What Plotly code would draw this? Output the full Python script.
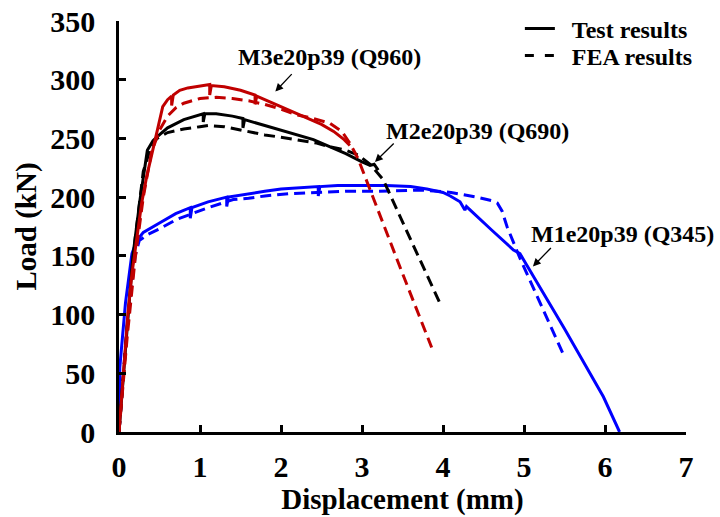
import plotly.graph_objects as go

# ---- data ----
m3_test_x = [0, 0.05, 0.11, 0.16, 0.22, 0.28, 0.34, 0.39, 0.44, 0.49, 0.54, 0.6, 0.65, 0.65, 0.67, 0.75, 0.85, 1.0, 1.12, 1.12, 1.14, 1.3, 1.5, 1.68, 1.68, 1.7, 1.9, 2.1, 2.3, 2.5, 2.65, 2.78, 2.85]
m3_test_y = [0, 48, 101, 135, 163, 195, 217, 233, 246, 262, 277, 283, 286, 278, 287, 291, 293, 295, 296, 287, 295, 294, 291, 287, 279, 286, 280, 274, 268, 262, 256, 249, 244]

m3_fea_x = [0, 0.1, 0.2, 0.3, 0.4, 0.5, 0.6, 0.7, 0.8, 1.0, 1.2, 1.4, 1.6, 1.8, 2.0, 2.2, 2.4, 2.6, 2.75, 2.85, 2.95, 3.1, 3.3, 3.5, 3.7, 3.86]
m3_fea_y = [0, 80, 148, 200, 238, 257, 269, 276, 280, 284, 285, 284, 282, 279, 275, 270, 267, 263, 256, 246, 233, 206, 171, 135, 100, 72]

m2_test_x = [0, 0.05, 0.1, 0.17, 0.26, 0.35, 0.42, 0.48, 0.6, 0.8, 1.04, 1.04, 1.06, 1.2, 1.4, 1.53, 1.53, 1.55, 1.8, 2.0, 2.2, 2.4, 2.6, 2.8, 3.0, 3.1, 3.15, 3.2]
m2_test_y = [0, 45, 92, 149, 198, 240, 248, 252, 259, 266, 271, 264, 271, 271, 269, 267, 259, 266, 261, 257, 253, 249, 243, 237, 230, 227, 228, 223]

m2_fea_x = [0, 0.1, 0.2, 0.3, 0.4, 0.47, 0.6, 0.8, 1.0, 1.1, 1.3, 1.5, 1.8, 2.0, 2.2, 2.44, 2.6, 2.8, 2.95, 3.1, 3.26, 3.4, 3.6, 3.8, 3.98]
m2_fea_y = [0, 88, 165, 222, 244, 250, 255, 258, 260, 261, 260, 257, 253, 251, 249, 246, 243, 240, 236, 228, 215, 194, 164, 135, 107]

m1_test_x = [0, 0.01, 0.08, 0.16, 0.22, 0.3, 0.5, 0.7, 0.88, 0.88, 0.9, 1.1, 1.33, 1.33, 1.35, 1.6, 1.8, 2.0, 2.2, 2.46, 2.46, 2.48, 2.7, 3.0, 3.3, 3.6, 3.8, 4.0, 4.09, 4.21, 4.27, 4.29, 4.35, 4.6, 4.87, 4.95, 5.0, 5.5, 5.98, 6.18]
m1_test_y = [0, 55, 110, 152, 163, 170, 178, 186, 191, 182, 191, 196, 200, 192, 200, 203, 205, 207, 208, 209, 201, 209, 210, 210, 210, 209, 207, 204, 201, 196, 189, 192, 188, 172, 155, 152, 146, 88, 30, 0]

m1_fea_x = [0, 0.1, 0.2, 0.25, 0.35, 0.5, 0.71, 0.9, 1.1, 1.41, 1.6, 1.8, 2.1, 2.44, 2.8, 3.2, 3.75, 4.1, 4.42, 4.6, 4.67, 4.73, 4.79, 4.95, 5.11, 5.3, 5.48]
m1_fea_y = [0, 92, 150, 163, 168, 173, 181, 186, 191, 198, 199, 201, 203, 204, 205, 205, 206, 204, 200, 197, 195, 188, 175, 148, 124, 95, 67]

x_ticks = [0, 1, 2, 3, 4, 5, 6, 7]
y_ticks = [0, 50, 100, 150, 200, 250, 300, 350]

RED = "#C00000"
BLUE = "#0000FF"
BLACK = "#000000"
FONT = "Liberation Serif"
DASH = "11px,6px"
NB = "\u00a0\u00a0"

fig = go.Figure()

series = [
    (m1_test_x, m1_test_y, BLUE, "solid"),
    (m1_fea_x, m1_fea_y, BLUE, DASH),
    (m2_test_x, m2_test_y, BLACK, "solid"),
    (m2_fea_x, m2_fea_y, BLACK, DASH),
    (m3_test_x, m3_test_y, RED, "solid"),
    (m3_fea_x, m3_fea_y, RED, DASH),
]
for xs, ys, c, d in series:
    fig.add_trace(go.Scatter(x=xs, y=ys, mode="lines", showlegend=False,
                             line=dict(color=c, width=3, dash=d)))

# legend entries (two legends so each row can be placed exactly)
fig.add_trace(go.Scatter(x=[None], y=[None], mode="lines", name=NB + "Test results",
                         legend="legend", line=dict(color=BLACK, width=3)))
fig.add_trace(go.Scatter(x=[None], y=[None], mode="lines", name=NB + "FEA results",
                         legend="legend2", line=dict(color=BLACK, width=3, dash="9px,11px")))

labels = [
    ("M3e20p39 (Q960)", 2.6, 319, 2.15, 306, 1.93, 290),
    ("M2e20p39 (Q690)", 4.43, 256, 3.41, 247, 3.16, 230),
    ("M1e20p39 (Q345)", 6.22, 169, 5.35, 158, 5.11, 141),
]
for txt, tx, ty, ax_, ay_, hx, hy in labels:
    fig.add_annotation(x=tx, y=ty, text=txt, showarrow=False, xref="x", yref="y",
                       font=dict(family=FONT, size=24, color="black", weight="bold"))
    fig.add_annotation(x=hx, y=hy, ax=ax_, ay=ay_, axref="x", ayref="y", xref="x", yref="y",
                       text="", showarrow=True, arrowhead=2, arrowsize=1.2, arrowwidth=1.3,
                       arrowcolor="black")

axis_common = dict(
    showgrid=False, zeroline=False, showline=True, linecolor="black", linewidth=2.5,
    ticks="inside", ticklen=7, tickwidth=2.5, tickcolor="black", automargin=False,
    ticklabeloverflow="allow",
    tickfont=dict(family=FONT, size=30, color="black", weight="bold"),
)

fig.update_xaxes(range=[0, 7], tickvals=x_ticks, ticktext=[str(v) for v in x_ticks],
                 ticklabelstandoff=6,
                 title=dict(text="Displacement (mm)", standoff=0,
                            font=dict(family=FONT, size=29, color="black", weight="bold")),
                 **axis_common)
fig.update_yaxes(range=[0, 350], tickvals=y_ticks, ticktext=[str(v) for v in y_ticks],
                 ticklabelstandoff=15,
                 title=dict(text="Load (kN)", standoff=6,
                            font=dict(family=FONT, size=29, color="black", weight="bold")),
                 **axis_common)

legend_common = dict(xanchor="left", yanchor="middle", bgcolor="rgba(0,0,0,0)",
                     font=dict(family=FONT, size=24, color="black", weight="bold"))
fig.update_layout(
    width=720, height=517,
    margin=dict(l=119, r=34, t=21, b=85, autoexpand=False),
    plot_bgcolor="white", paper_bgcolor="white",
    legend=dict(x=0.707, y=0.981, **legend_common),
    legend2=dict(x=0.707, y=0.915, **legend_common),
)

# remove the default 8px page margin so the figure fills the window exactly
fig.write_html("out.html", config={"displayModeBar": False},
               post_script="document.body.style.margin='0';")
